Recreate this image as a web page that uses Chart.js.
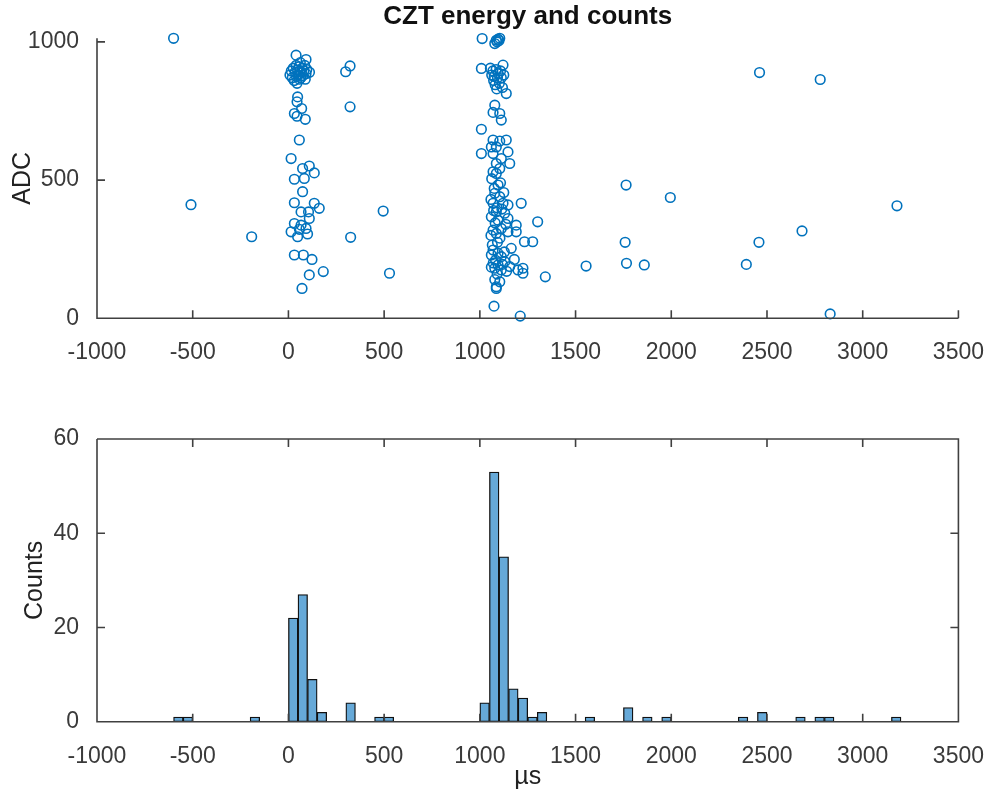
<!DOCTYPE html>
<html>
<head>
<meta charset="utf-8">
<title>CZT energy and counts</title>
<script src="https://cdn.jsdelivr.net/npm/chart.js@4.4.1/dist/chart.umd.min.js"></script>
<style>
  html, body { margin: 0; padding: 0; background: #fff; }
  #wrap { position: relative; width: 997px; height: 792px; }
  .panel { position: absolute; left: 0; width: 997px; }
  #scatter-panel { top: 0; height: 400px; }
  #hist-panel { top: 400px; height: 392px; }
</style>
</head>
<body>
<div id="wrap">
  <div class="panel" id="scatter-panel"><canvas id="scatter"></canvas></div>
  <div class="panel" id="hist-panel"><canvas id="hist"></canvas></div>
</div>
<script>
// event times (µs) and ADC values, paired by index
const eventTimes = [
  -600, -509, -192, 299, 322, 322, 325, 495, 528,
  40, 48, 45, 31, 45, 14, 31, 31, 31, 14, 48, 31,
  92, 69, 88, 57, 74, 83, 74, 66, 66, 92, 57, 78, 71,
  109, 135, 135, 105, 109, 100, 123, 109, 161, 182,
  8, 15, 20, 25, 30, 35, 40, 42, 45, 48,
  52, 55, 58, 60, 62, 65, 68, 72, 75, 80, 85, 88, 92, 96, 110,
  1012, 1008, 1008, 1008,
  1086, 1104, 1078, 1121, 1138, 1078, 1069, 1104, 1112, 1069, 1104, 1138, 1086, 1060, 1069, 1147, 1112, 1086, 1104, 1069,
  1086, 1095, 1078, 1104, 1069, 1121, 1147, 1086, 1130, 1060, 1095, 1147, 1112, 1147, 1086, 1069, 1069, 1095, 1060, 1112,
  1130, 1095, 1112, 1078, 1104, 1086, 1086, 1074,
  1055, 1062, 1068, 1072, 1075, 1080, 1085, 1088, 1092, 1096, 1102, 1108, 1112, 1118, 1125, 1090, 1095, 1100,
  1062, 1075, 1058, 1090, 1072, 1080, 1058, 1092, 1065, 1082, 1070, 1090, 1078, 1060,
  1108, 1125, 1115, 1135, 1105, 1128, 1118, 1140,
  1156, 1156, 1190, 1190, 1164, 1180, 1199,
  1216, 1233, 1225, 1225, 1211, 1276, 1302, 1342,
  1555, 1764, 1759, 1766, 1859, 1995, 2392, 2461, 2458, 2683, 2778, 2830, 3179
]
const eventAdc = [
  1013, 411, 295, 892, 913, 765, 293, 388, 163,
  952, 801, 783, 741, 731, 578, 503, 418, 343, 313, 295, 229,
  936, 759, 720, 645, 542, 506, 458, 385, 337, 325, 322, 229, 108,
  551, 526, 416, 385, 361, 305, 213, 157, 398, 169,
  880, 895, 870, 905, 860, 890, 915, 875, 850, 898,
  880, 910, 865, 895, 925, 870, 890, 905, 878, 895, 915, 865, 885, 900, 890,
  1012, 904, 684, 596,
  1006, 1013, 994, 916, 813, 771, 745, 741, 717, 645, 641, 645, 620, 620, 596, 602, 578, 560, 542, 530,
  524, 482, 452, 440, 416, 416, 410, 385, 380, 367, 355, 361, 325, 313, 307, 319, 247, 235, 229, 223,
  205, 193, 175, 181, 132, 108, 114, 44,
  905, 880, 895, 860, 875, 845, 900, 830, 870, 885, 850, 895, 870, 835, 880, 1000, 1010, 1005,
  505, 470, 430, 400, 390, 345, 300, 275, 265, 210, 200, 160, 140, 185,
  490, 455, 395, 340, 290, 240, 195, 170,
  560, 187, 337, 313, 253, 213, 175,
  416, 277, 181, 163, 8, 277, 349, 150,
  189, 482, 275, 199, 193, 437, 195, 889, 275, 316, 864, 16, 407
]

// histogram: left edge of each non-empty 50 µs bin and its count
const binWidth = 50
const binLefts = [-600, -550, -200, 0, 50, 100, 150, 300, 450, 500,
  1000, 1050, 1100, 1150, 1200, 1250, 1300, 1550, 1750, 1850, 1950,
  2350, 2450, 2650, 2750, 2800, 3150]
const binCounts = [1, 1, 1, 22, 27, 9, 2, 4, 1, 1,
  4, 53, 35, 7, 5, 1, 2, 1, 3, 1, 1,
  1, 2, 1, 1, 1, 1]

// axis limits and tick labels
const timeRange = [-1000, 3500]
const timeTickValues = [-1000, -500, 0, 500, 1000, 1500, 2000, 2500, 3000, 3500]
const adcRange = [0, 1013]
const adcTickValues = [0, 500, 1000]
const countRange = [0, 60]
const countTickValues = [0, 20, 40, 60]

const chartTitle = 'CZT energy and counts'

const fontFamily = '"Liberation Sans", Arial, Helvetica, sans-serif'
const axisColor = '#404040'
const textColor = '#3a3a3a'
const markerColor = '#0072BD'
const barColor = '#66A9D8'

Chart.defaults.font.family = fontFamily
Chart.defaults.color = textColor

// MATLAB style axes: lines plus tick marks pointing into the plot, optional title
const matlabAxes = {
  id: 'matlabAxes',
  afterDraw(chart, args, opts) {
    const {ctx, chartArea: a, scales} = chart
    const len = 8
    ctx.save()
    ctx.strokeStyle = axisColor
    ctx.lineWidth = 1.6
    ctx.beginPath()
    ctx.moveTo(a.left, a.top)
    ctx.lineTo(a.left, a.bottom)
    ctx.lineTo(a.right, a.bottom)
    if (opts.box) {
      ctx.lineTo(a.right, a.top)
      ctx.lineTo(a.left, a.top)
    }
    scales.x.ticks.forEach(t => {
      const px = scales.x.getPixelForValue(t.value)
      ctx.moveTo(px, a.bottom)
      ctx.lineTo(px, a.bottom - len)
      if (opts.box) {
        ctx.moveTo(px, a.top)
        ctx.lineTo(px, a.top + len)
      }
    })
    scales.y.ticks.forEach(t => {
      const py = scales.y.getPixelForValue(t.value)
      ctx.moveTo(a.left, py)
      ctx.lineTo(a.left + len, py)
      if (opts.box) {
        ctx.moveTo(a.right, py)
        ctx.lineTo(a.right - len, py)
      }
    })
    ctx.stroke()

    if (opts.title) {
      ctx.fillStyle = '#111'
      ctx.font = 'bold 26px ' + fontFamily
      ctx.textAlign = 'center'
      ctx.textBaseline = 'alphabetic'
      ctx.fillText(opts.title, (a.left + a.right) / 2, 24)
    }
    ctx.restore()
  }
}

function fixedTicks(values) {
  return s => { s.ticks = values.map(v => ({value: v})) }
}

function timeAxis(height, title) {
  return {
    type: 'linear',
    min: timeRange[0],
    max: timeRange[1],
    offset: false,
    grid: {display: false},
    border: {display: false},
    ticks: {
      padding: 13,
      font: {size: 23},
      color: textColor,
      maxRotation: 0,
      autoSkip: false,
      callback: v => String(v)
    },
    title: title ? {display: true, text: title, font: {size: 25}, color: '#222', padding: {top: 0, bottom: 0}} : {display: false},
    afterBuildTicks: fixedTicks(timeTickValues),
    afterFit: s => { s.height = height }
  }
}

function valueAxis(range, tickValues, title, titlePad) {
  return {
    type: 'linear',
    min: range[0],
    max: range[1],
    grid: {display: false},
    border: {display: false},
    ticks: {
      padding: 10,
      font: {size: 23},
      color: textColor,
      autoSkip: false,
      callback: v => String(v)
    },
    title: {display: true, text: title, font: {size: 25}, color: '#222', padding: {top: titlePad, bottom: 0}},
    afterBuildTicks: fixedTicks(tickValues),
    afterFit: s => { s.width = 97 }
  }
}

function buildScatter(canvas) {
  const points = eventTimes.map((t, i) => ({x: t, y: eventAdc[i]}))
  return new Chart(canvas, {
    type: 'scatter',
    data: {
      datasets: [{
        data: points,
        pointStyle: 'circle',
        pointRadius: 4.8,
        pointHoverRadius: 4.8,
        borderWidth: 1.6,
        borderColor: markerColor,
        backgroundColor: 'rgba(0,0,0,0)',
        clip: false
      }]
    },
    options: {
      responsive: true,
      maintainAspectRatio: false,
      animation: false,
      devicePixelRatio: 1,
      layout: {padding: {top: 38.3, right: 33, bottom: 0, left: 0}},
      plugins: {
        legend: {display: false},
        tooltip: {enabled: false},
        title: {display: false},
        matlabAxes: {box: false, title: chartTitle}
      },
      scales: {
        x: timeAxis(81.7, null),
        y: valueAxis(adcRange, adcTickValues, 'ADC', 8)
      }
    },
    plugins: [matlabAxes]
  })
}

function buildHistogram(canvas) {
  const bars = binLefts.map((l, i) => ({x: l + binWidth / 2, y: binCounts[i]}))
  return new Chart(canvas, {
    type: 'bar',
    data: {
      datasets: [{
        data: bars,
        backgroundColor: barColor,
        borderColor: '#111',
        borderWidth: 1.3,
        borderSkipped: false,
        barPercentage: 1,
        categoryPercentage: 1
      }]
    },
    options: {
      responsive: true,
      maintainAspectRatio: false,
      animation: false,
      devicePixelRatio: 1,
      layout: {padding: {top: 39, right: 33, bottom: 0, left: 0}},
      plugins: {
        legend: {display: false},
        tooltip: {enabled: false},
        matlabAxes: {box: true}
      },
      scales: {
        x: timeAxis(70.3, 'µs'),
        y: valueAxis(countRange, countTickValues, 'Counts', 20)
      }
    },
    plugins: [matlabAxes]
  })
}

buildScatter(document.getElementById('scatter'))
buildHistogram(document.getElementById('hist'))
</script>
</body>
</html>
